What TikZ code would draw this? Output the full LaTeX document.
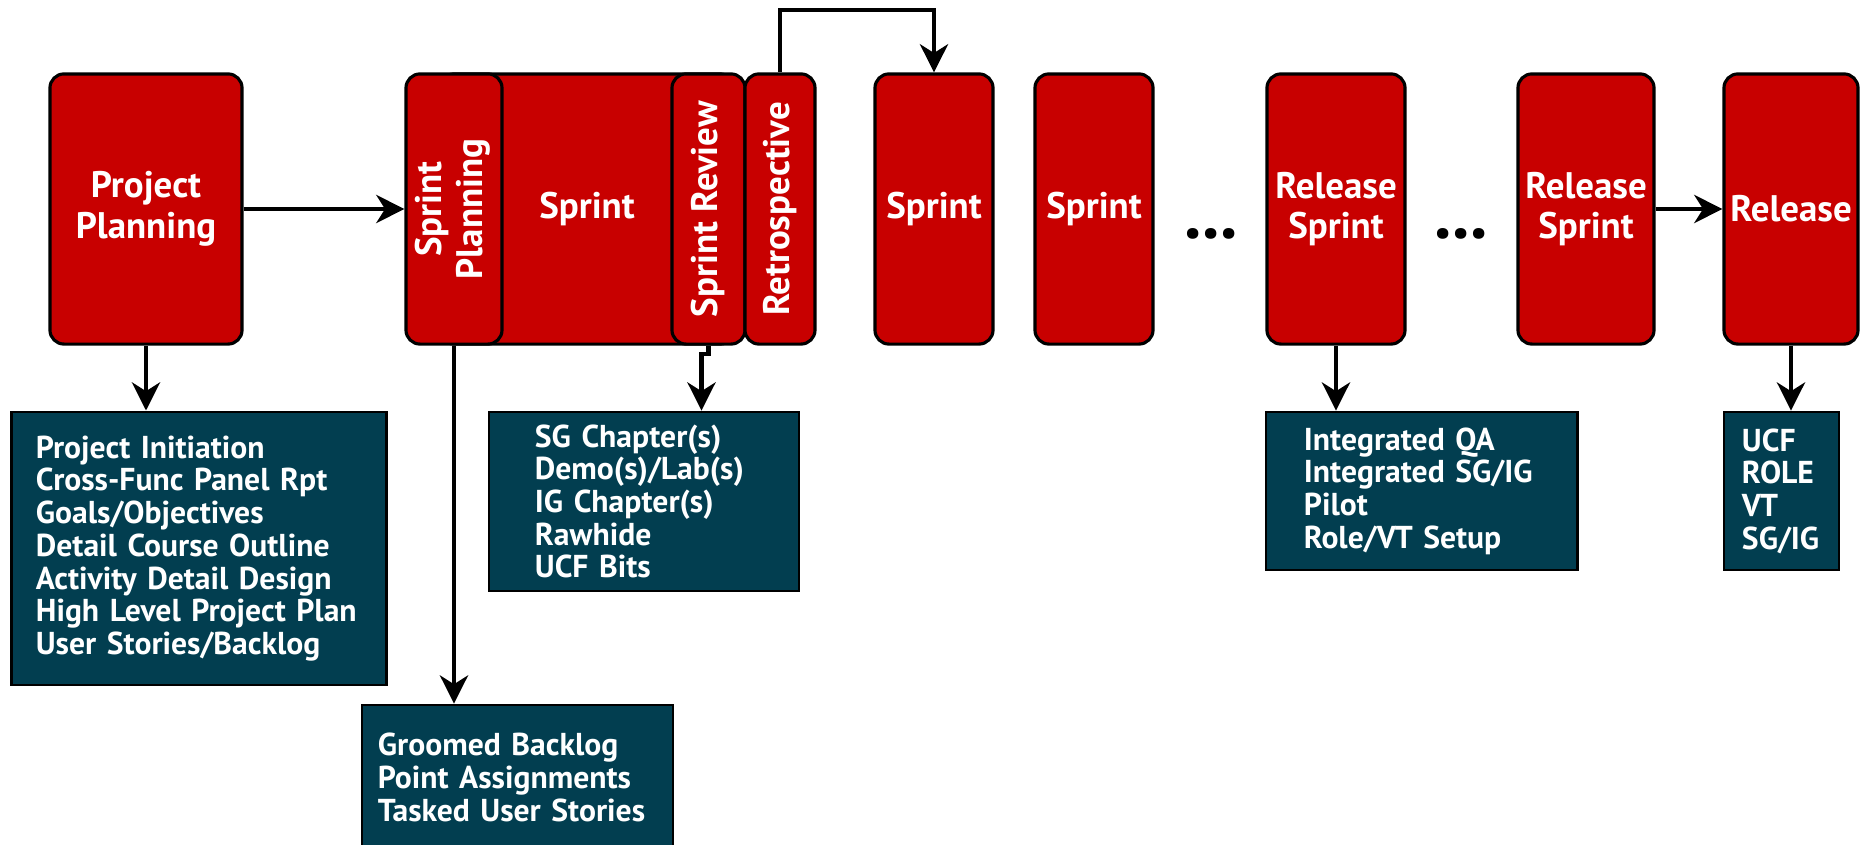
\documentclass[tikz,border=0pt]{standalone}
\usepackage{fontspec}
\usepackage{graphicx}
\setmainfont{PT Sans}
\usetikzlibrary{arrows.meta,positioning,calc}

\definecolor{fasered}{RGB}{200,0,0}
\definecolor{salidateal}{RGB}{2,62,80}

\tikzset{
  fase/.style={draw=black, line width=0.9pt, fill=fasered, rounded corners=4pt,
    text=white, font=\bfseries\fontsize{10.5}{11.5}\selectfont, align=center,
    minimum height=2.7cm, inner sep=0pt},
  salida/.style={draw=black, line width=0.8pt, fill=salidateal, text=white,
    font=\bfseries\fontsize{9}{9.3}\selectfont, align=left},
  flujo/.style={-{Stealth[length=8pt,width=8pt,inset=2.5pt]}, line width=1.2pt},
  puntos/.style={font=\bfseries\fontsize{20}{20}\selectfont, inner sep=0pt, anchor=base},
}

\begin{document}
\begin{tikzpicture}[x=0.01cm, y=-0.01cm]
      \useasboundingbox (0,0) rectangle (1862,845);

      % Fases
      \node[fase, minimum width=1.92cm] (pp) at (146,209) {Project\\Planning};
      \node[fase, minimum width=2.94cm] (sprint) at (587,209) {Sprint};
      \node[fase, minimum width=0.96cm] (sp) at (454,209)
        {\rotatebox{90}{\begin{tabular}{@{}c@{}}Sprint\\Planning\end{tabular}}};
      \node[fase, minimum width=0.73cm] (sr) at (708.5,209) {\rotatebox{90}{Sprint Review}};
      \node[fase, minimum width=0.70cm] (retro) at (780,209) {\rotatebox{90}{Retrospective}};
      \node[fase, minimum width=1.18cm] (s2) at (934,209) {Sprint};
      \node[fase, minimum width=1.18cm] (s3) at (1094,209) {Sprint};
      \node[fase, minimum width=1.38cm] (rs1) at (1336,209) {Release\\Sprint};
      \node[fase, minimum width=1.36cm] (rs2) at (1586,209) {Release\\Sprint};
      \node[fase, minimum width=1.34cm] (rel) at (1791,209) {Release};

      % Puntos suspensivos
      \node[puntos] (dotsA) at (1211,238) {...};
      \node[puntos] (dotsB) at (1461,238) {...};

      % Salidas
      \node[salida, minimum height=2.73cm, text width=3.26cm, inner xsep=0.24cm] (out1) at (199,548.5)
        {Project Initiation\\Cross-Func Panel Rpt\\Goals/Objectives\\Detail Course Outline\\Activity Detail Design\\High Level Project Plan\\User Stories/Backlog};
      \node[salida, minimum height=1.45cm, text width=2.79cm, inner xsep=0.16cm] (out2) at (517.5,777.5)
        {Groomed Backlog\\Point Assignments\\Tasked User Stories};
      \node[salida, minimum height=1.79cm, text width=2.18cm, inner xsep=0.46cm] (out3) at (644,501.5)
        {SG Chapter(s)\\Demo(s)/Lab(s)\\IG Chapter(s)\\Rawhide\\UCF Bits};
      \node[salida, minimum height=1.58cm, text width=2.35cm, inner xsep=0.38cm] (out4) at (1421.5,491)
        {Integrated QA\\Integrated SG/IG\\Pilot\\Role/VT Setup};
      \node[salida, minimum height=1.58cm, text width=0.79cm, inner xsep=0.18cm] (out5) at (1781.5,491)
        {UCF\\ROLE\\VT\\SG/IG};

      % Flechas
      \draw[flujo] (pp.east) -- (sp.west);
      \draw[flujo] (retro.north) -- ++(0,-62) -| (s2.north);
      \draw[flujo] (rs2.east) -- (rel.west);
      \draw[flujo] (pp.south) -- (pp.south |- out1.north);
      \draw[flujo] (sp.south) -- (sp.south |- out2.north);
      \draw[flujo] (sr.south) -- ++(0,8) -| ([xshift=-0.07cm]sr.south |- out3.north);
      \draw[flujo] (rs1.south) -- (rs1.south |- out4.north);
      \draw[flujo] (rel.south) -- (rel.south |- out5.north);
    \end{tikzpicture}
\end{document}
